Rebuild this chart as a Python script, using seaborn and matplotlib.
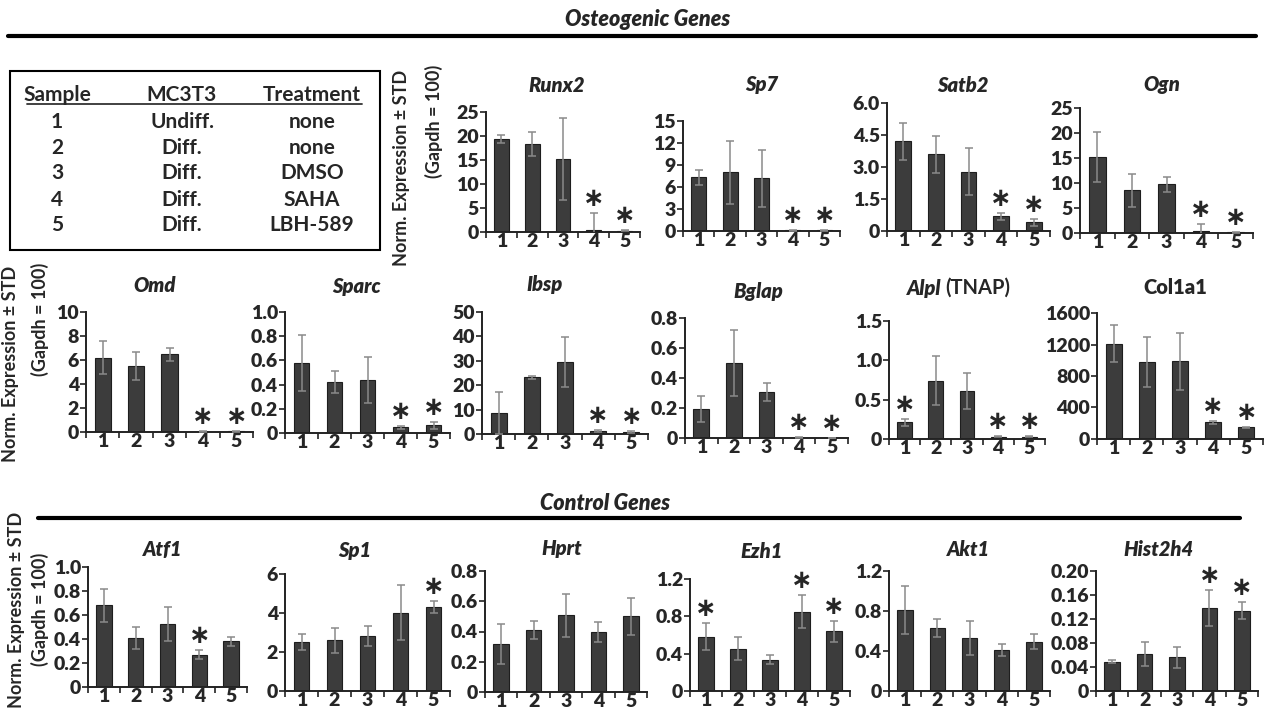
import numpy as np
import pandas as pd
import matplotlib
matplotlib.use("Agg")
import matplotlib.pyplot as plt
import seaborn as sns
from matplotlib.lines import Line2D
from matplotlib.patches import Rectangle

# ---------------- data ----------------
samples = ["1", "2", "3", "4", "5"]

table_header = ["Sample", "MC3T3", "Treatment"]
table_state = ["Undiff.", "Diff.", "Diff.", "Diff.", "Diff."]
table_treatment = ["none", "none", "DMSO", "SAHA", "LBH-589"]

runx2_mean = [19.4, 18.3, 15.2, 0.5, 0.25]
runx2_err = [0.9, 2.5, 8.6, 3.4, 0.1]
runx2_sig = ["4", "5"]
runx2_ticks = ["0", "5", "10", "15", "20", "25"]

sp7_mean = [7.3, 8.0, 7.2, 0.1, 0.1]
sp7_err = [1.0, 4.3, 3.9, 0.05, 0.05]
sp7_sig = ["4", "5"]
sp7_ticks = ["0", "3", "6", "9", "12", "15"]

satb2_mean = [4.2, 3.6, 2.78, 0.69, 0.4]
satb2_err = [0.85, 0.86, 1.1, 0.17, 0.17]
satb2_sig = ["4", "5"]
satb2_ticks = ["0", "1.5", "3.0", "4.5", "6.0"]

ogn_mean = [15.3, 8.6, 9.8, 0.4, 0.2]
ogn_err = [5.0, 3.3, 1.5, 1.5, 0.1]
ogn_sig = ["4", "5"]
ogn_ticks = ["0", "5", "10", "15", "20", "25"]

omd_mean = [6.2, 5.47, 6.47, 0.03, 0.05]
omd_err = [1.38, 1.17, 0.55, 0.02, 0.02]
omd_sig = ["4", "5"]
omd_ticks = ["0", "2", "4", "6", "8", "10"]

sparc_mean = [0.58, 0.42, 0.44, 0.047, 0.063]
sparc_err = [0.23, 0.09, 0.19, 0.01, 0.027]
sparc_sig = ["4", "5"]
sparc_ticks = ["0", "0.2", "0.4", "0.6", "0.8", "1.0"]

ibsp_mean = [8.5, 23.2, 29.5, 1.3, 0.9]
ibsp_err = [8.6, 0.6, 10.2, 0.3, 0.3]
ibsp_sig = ["4", "5"]
ibsp_ticks = ["0", "10", "20", "30", "40", "50"]

bglap_mean = [0.196, 0.5, 0.307, 0.003, 0.002]
bglap_err = [0.086, 0.218, 0.06, 0.001, 0.001]
bglap_sig = ["4", "5"]
bglap_ticks = ["0", "0.2", "0.4", "0.6", "0.8"]

alpl_mean = [0.21, 0.74, 0.61, 0.03, 0.03]
alpl_err = [0.04, 0.31, 0.235, 0.005, 0.005]
alpl_sig = ["1", "4", "5"]
alpl_ticks = ["0", "0.5", "1.0", "1.5"]

col1a1_mean = [1210, 976, 985, 212, 149]
col1a1_err = [237, 314, 360, 17, 6]
col1a1_sig = ["4", "5"]
col1a1_ticks = ["0", "400", "800", "1200", "1600"]

atf1_mean = [0.68, 0.41, 0.525, 0.27, 0.38]
atf1_err = [0.14, 0.09, 0.142, 0.04, 0.037]
atf1_sig = ["4"]
atf1_ticks = ["0", "0.2", "0.4", "0.6", "0.8", "1.0"]

sp1_mean = [2.51, 2.61, 2.82, 4.02, 4.33]
sp1_err = [0.41, 0.64, 0.53, 1.43, 0.31]
sp1_sig = ["5"]
sp1_ticks = ["0", "2", "4", "6"]

hprt_mean = [0.32, 0.41, 0.507, 0.397, 0.5]
hprt_err = [0.132, 0.057, 0.143, 0.066, 0.124]
hprt_sig = []
hprt_ticks = ["0", "0.2", "0.4", "0.6", "0.8"]

ezh1_mean = [0.58, 0.455, 0.337, 0.85, 0.64]
ezh1_err = [0.144, 0.125, 0.046, 0.18, 0.11]
ezh1_sig = ["1", "4", "5"]
ezh1_ticks = ["0", "0.4", "0.8", "1.2"]

akt1_mean = [0.807, 0.633, 0.53, 0.413, 0.493]
akt1_err = [0.24, 0.09, 0.17, 0.06, 0.074]
akt1_sig = []
akt1_ticks = ["0", "0.4", "0.8", "1.2"]

hist2h4_mean = [0.049, 0.062, 0.056, 0.139, 0.134]
hist2h4_err = [0.002, 0.02, 0.018, 0.03, 0.014]
hist2h4_sig = ["4", "5"]
hist2h4_ticks = ["0", "0.04", "0.08", "0.12", "0.16", "0.20"]

# ---------------- layout ----------------
W, H = 1272, 713
sns.set_theme(style="ticks")
plt.rcParams["font.family"] = ["Lato", "DejaVu Sans"]
plt.rcParams["font.weight"] = "bold"

fig = plt.figure(figsize=(W / 100, H / 100), dpi=100)
fig.patch.set_facecolor("white")


def rect(l, t, r, b):
    return [l / W, 1 - b / H, (r - l) / W, (b - t) / H]


def fx(x):
    return x / W


def fy(y):
    return 1 - y / H


# (title, italic, mean, err, sig, ticks, axes box px, title pos px)
panels = [
    ("Runx2", True, runx2_mean, runx2_err, runx2_sig, runx2_ticks, (486, 112, 640, 232), (557, 85)),
    ("Sp7", True, sp7_mean, sp7_err, sp7_sig, sp7_ticks, (683, 121, 840, 231), (762, 85)),
    ("Satb2", True, satb2_mean, satb2_err, satb2_sig, satb2_ticks, (887, 103, 1050, 231), (963, 85)),
    ("Ogn", True, ogn_mean, ogn_err, ogn_sig, ogn_ticks, (1080, 108, 1253, 233), (1162, 85)),
    ("Omd", True, omd_mean, omd_err, omd_sig, omd_ticks, (86, 312, 253, 432), (155, 285)),
    ("Sparc", True, sparc_mean, sparc_err, sparc_sig, sparc_ticks, (285, 312, 450, 433), (357, 287)),
    ("Ibsp", True, ibsp_mean, ibsp_err, ibsp_sig, ibsp_ticks, (482, 312, 648, 434), (545, 285)),
    ("Bglap", True, bglap_mean, bglap_err, bglap_sig, bglap_ticks, (685, 318, 848, 438), (758, 291)),
    ("Alpl", True, alpl_mean, alpl_err, alpl_sig, alpl_ticks, (889, 321, 1045, 439), None),
    ("Col1a1", False, col1a1_mean, col1a1_err, col1a1_sig, col1a1_ticks, (1097, 313, 1263, 439), (1175, 288)),
    ("Atf1", True, atf1_mean, atf1_err, atf1_sig, atf1_ticks, (88, 567, 247, 687), (163, 550)),
    ("Sp1", True, sp1_mean, sp1_err, sp1_sig, sp1_ticks, (285, 574, 450, 691), (355, 550)),
    ("Hprt", True, hprt_mean, hprt_err, hprt_sig, hprt_ticks, (485, 571, 647, 692), (562, 548)),
    ("Ezh1", True, ezh1_mean, ezh1_err, ezh1_sig, ezh1_ticks, (690, 579, 850, 691), (762, 552)),
    ("Akt1", True, akt1_mean, akt1_err, akt1_sig, akt1_ticks, (889, 571, 1050, 691), (968, 550)),
    ("Hist2h4", True, hist2h4_mean, hist2h4_err, hist2h4_sig, hist2h4_ticks, (1096, 571, 1258, 691), (1158, 550)),
]

BAR = "#3c3c3c"
ERR = "#8a8a8a"
TICK_FS = 14
TITLE_FS = 14.5

for title, italic, mean, err, sig, ticks, box, tpos in panels:
    ax = fig.add_axes(rect(*box))
    df = pd.DataFrame({"sample": samples, "value": mean})
    sns.barplot(data=df, x="sample", y="value", ax=ax, color=BAR, saturation=1,
                width=0.48, edgecolor="#1e1e1e", linewidth=0.8, errorbar=None)
    ax.errorbar(np.arange(len(samples)), mean, yerr=err, fmt="none", ecolor=ERR,
                elinewidth=1.1, capsize=3, capthick=1.1, zorder=5)
    tv = [float(t) for t in ticks]
    ax.set_ylim(0, tv[-1])
    ax.set_yticks(tv, ticks)
    ax.set_xlim(-0.5, len(samples) - 0.5)
    ax.set_xticks(np.arange(len(samples)), samples)
    ax.set_xticks(np.arange(-0.5, len(samples), 1.0), minor=True)
    ax.tick_params(axis="x", which="major", length=0, pad=1, labelsize=TICK_FS)
    ax.tick_params(axis="x", which="minor", length=4, width=1.2, direction="out", color="#222222")
    ax.tick_params(axis="y", length=4, width=1.2, direction="out", pad=1, labelsize=TICK_FS, color="#222222")
    for lab in ax.get_xticklabels() + ax.get_yticklabels():
        lab.set_fontweight("heavy")
    for s in ("top", "right"):
        ax.spines[s].set_visible(False)
    for s in ("left", "bottom"):
        ax.spines[s].set_linewidth(1.4)
        ax.spines[s].set_color("#222222")
    ax.set_xlabel("")
    ax.set_ylabel("")
    ax.set_facecolor("none")
    for s in sig:
        i = samples.index(s)
        ax.annotate("\u2217", (i, mean[i] + err[i]), xytext=(0, 5), textcoords="offset points",
                    ha="center", va="baseline", fontsize=18.5, fontweight="bold",
                    family="DejaVu Sans", annotation_clip=False)
    if tpos is not None:
        fig.text(fx(tpos[0]), fy(tpos[1]), title, ha="center", va="center",
                 fontsize=TITLE_FS, fontweight="heavy", style="italic" if italic else "normal")

# Alpl (TNAP) mixed-style title
fig.text(fx(941), fy(288), "Alpl", ha="right", va="center", fontsize=TITLE_FS,
         fontweight="heavy", style="italic")
fig.text(fx(945), fy(288), "(TNAP)", ha="left", va="center", fontsize=TITLE_FS,
         fontweight="bold")

# section headers
fig.text(fx(648), fy(20), "Osteogenic Genes", ha="center", va="center",
         fontsize=15.5, fontweight="heavy", style="italic")
fig.add_artist(Line2D([fx(8), fx(1256)], [fy(36), fy(36)], lw=3, color="black"))
fig.text(fx(605), fy(503), "Control Genes", ha="center", va="center",
         fontsize=15.5, fontweight="heavy", style="italic")
fig.add_artist(Line2D([fx(38), fx(1240)], [fy(518), fy(518)], lw=3, color="black"))

# y-axis labels
YL_FS = 13
ylab1 = "Norm. Expression \u00b1 STD"
ylab2 = "(Gapdh = 100)"
fig.text(fx(401), fy(168), ylab1, rotation=90, ha="center", va="center", fontsize=YL_FS, fontweight="bold")
fig.text(fx(434), fy(121), ylab2, rotation=90, ha="center", va="center", fontsize=YL_FS, fontweight="bold")
fig.text(fx(11), fy(364), ylab1, rotation=90, ha="center", va="center", fontsize=YL_FS, fontweight="bold")
fig.text(fx(40), fy(319), ylab2, rotation=90, ha="center", va="center", fontsize=YL_FS, fontweight="bold")
fig.text(fx(17), fy(610), ylab1, rotation=90, ha="center", va="center", fontsize=YL_FS, fontweight="bold")
fig.text(fx(40), fy(609), ylab2, rotation=90, ha="center", va="center", fontsize=YL_FS, fontweight="bold")

# sample table
fig.add_artist(Rectangle((fx(10), fy(250)), (380 - 10) / W, (250 - 71) / H, fill=False,
                         lw=1.5, edgecolor="black", transform=fig.transFigure))
col_x = [57, 182, 312]
TAB_FS = 15
for cx, htxt in zip(col_x, table_header):
    fig.text(fx(cx), fy(95), htxt, ha="center", va="center", fontsize=TAB_FS, fontweight="bold")
fig.add_artist(Line2D([fx(27), fx(362)], [fy(104), fy(104)], lw=1.3, color="#333333"))
row_y = [122, 148, 173, 200, 225]
for ry, s, st, tr in zip(row_y, samples, table_state, table_treatment):
    fig.text(fx(col_x[0]), fy(ry), s, ha="center", va="center", fontsize=TAB_FS, fontweight="bold")
    fig.text(fx(col_x[1]), fy(ry), st, ha="center", va="center", fontsize=TAB_FS, fontweight="bold")
    fig.text(fx(col_x[2]), fy(ry), tr, ha="center", va="center", fontsize=TAB_FS, fontweight="bold")

fig.savefig("out.png", dpi=100, facecolor="white")
